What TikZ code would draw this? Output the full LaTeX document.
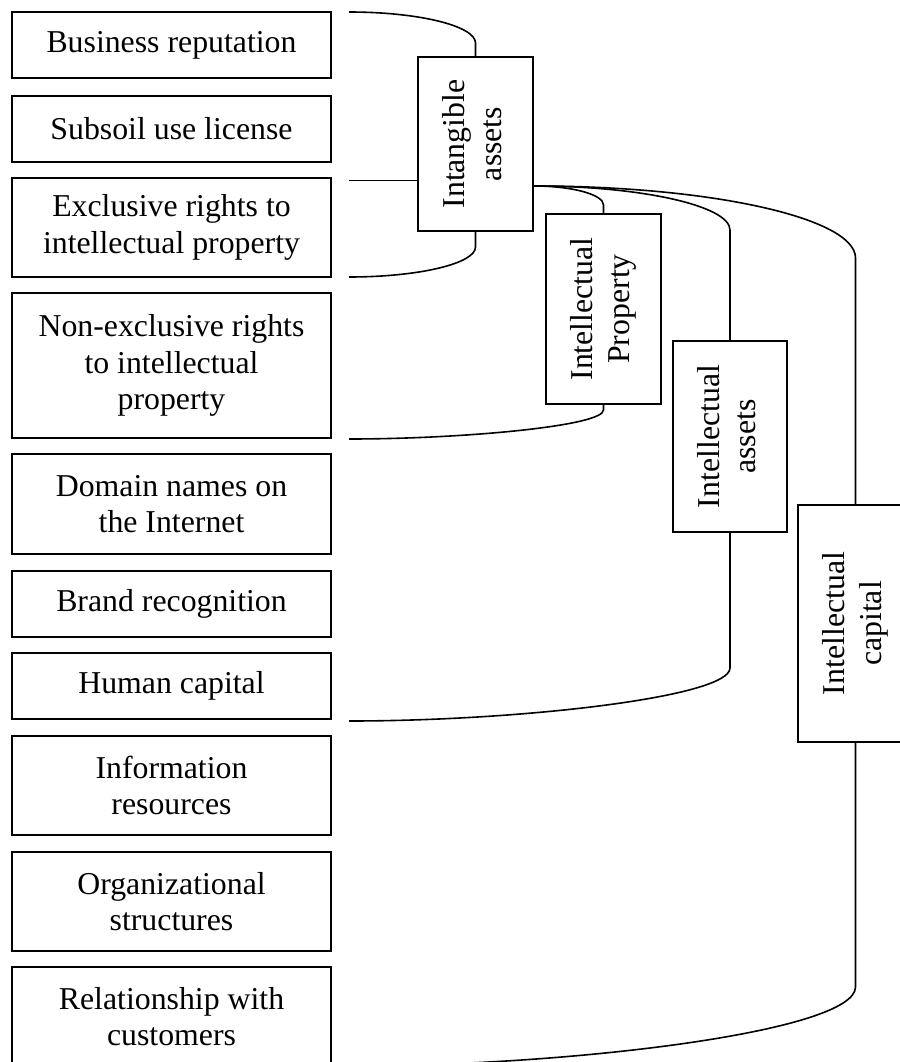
\documentclass[tikz,border=0pt]{standalone}
\usepackage{fontspec}
\setmainfont{Liberation Serif}
\begin{document}
\begin{tikzpicture}[x=1pt,y=-1pt,
  box/.style={draw, line width=2pt, align=center, inner sep=0pt,
    font=\fontsize{31.8}{36.6}\selectfont},
  lbox/.style={box, minimum width=319pt},
  link/.style={line width=1.6pt}]
\useasboundingbox (0,0) rectangle (899,1062);
% left column
\node[lbox, minimum height=66pt] (n1) at (171.5,45) {Business reputation};
\node[lbox, minimum height=66pt] (n2) at (171.5,129) {Subsoil use license};
\node[lbox, minimum height=99pt] (n3) at (171.5,227.5) {Exclusive rights to\\intellectual property};
\node[lbox, minimum height=145pt] (n4) at (171.5,365.5) {Non-exclusive rights\\to intellectual\\property};
\node[lbox, minimum height=100pt] (n5) at (171.5,504) {Domain names on\\the Internet};
\node[lbox, minimum height=66pt] (n6) at (171.5,604) {Brand recognition};
\node[lbox, minimum height=66pt] (n7) at (171.5,686) {Human capital};
\node[lbox, minimum height=99pt] (n8) at (171.5,785.5) {Information\\resources};
\node[lbox, minimum height=99pt] (n9) at (171.5,901.5) {Organizational\\structures};
\node[lbox, minimum height=99pt] (n10) at (171.5,1016.5) {Relationship with\\customers};
% vertical boxes
\node[box, minimum width=115pt, minimum height=174pt] (ia) at (475.5,144)
  {\rotatebox{90}{\begin{tabular}{@{}c@{}}Intangible\\assets\end{tabular}}};
\node[box, minimum width=115pt, minimum height=190pt] (ip) at (603.5,309)
  {\rotatebox{90}{\begin{tabular}{@{}c@{}}Intellectual\\Property\end{tabular}}};
\node[box, minimum width=114pt, minimum height=191pt] (ias) at (730,436.5)
  {\rotatebox{90}{\begin{tabular}{@{}c@{}}Intellectual\\assets\end{tabular}}};
\node[box, minimum width=115pt, minimum height=237pt] (ic) at (855.5,623.5)
  {\rotatebox{90}{\begin{tabular}{@{}c@{}}Intellectual\\capital\end{tabular}}};
% free ends
\coordinate (t1) at (349,12);
\coordinate (m1) at (349,180.5);
\coordinate (b1) at (349,277);
\coordinate (b2) at (349,439);
\coordinate (b3) at (349,721);
\coordinate (b4) at (349,1066);
\coordinate (s) at ([yshift=-42pt]ia.east);
% intangible assets bracket
\draw[link] (ia.north) -- (475.5,43) .. controls (475.5,26) and (419,12) .. (t1);
\draw[link] (m1) -- (m1 -| ia.west);
\draw[link] (ia.south) -- (475.5,247) .. controls (475.5,263.5) and (419,277) .. (b1);
% from intangible assets to the others
\draw[link] (s) .. controls (572,186) and (603.5,194.5) .. (603.5,205) -- (ip.north);
\draw[link] (s) .. controls (642,186) and (730,206) .. (730,230) -- (ias.north);
\draw[link] (s) .. controls (711,186) and (855.5,218) .. (855.5,258) -- (ic.north);
% lower ends
\draw[link] (ip.south) -- (603.5,410) .. controls (603.5,426) and (463,439) .. (b2);
\draw[link] (ias.south) -- (730,668) .. controls (730,697) and (520,721) .. (b3);
\draw[link] (ic.south) -- (855.5,987) .. controls (855.5,1031) and (576,1066) .. (b4);
\end{tikzpicture}
\end{document}
